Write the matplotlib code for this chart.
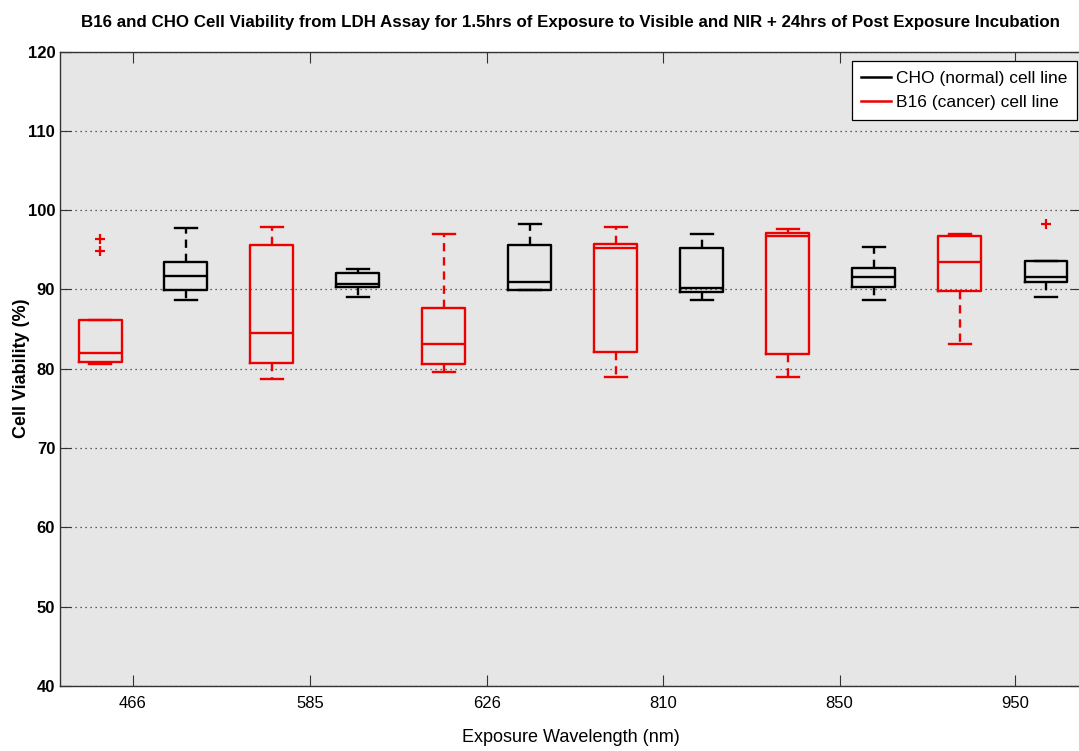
import matplotlib
matplotlib.use("Agg")
import matplotlib.pyplot as plt
from matplotlib.lines import Line2D

# ---- data ----
wavelengths = ["466", "585", "626", "810", "850", "950"]

# B16 (cancer) cell line - red boxes
b16_whislo = [80.6, 78.7, 79.6, 78.9, 79.0, 83.1]
b16_q1     = [80.9, 80.75, 80.6, 82.1, 81.9, 89.8]
b16_med    = [82.0, 84.5, 83.1, 95.2, 96.7, 93.5]
b16_q3     = [86.1, 95.6, 87.7, 95.7, 97.1, 96.7]
b16_whishi = [86.1, 97.9, 97.0, 97.9, 97.6, 97.0]
b16_fliers = [[96.4, 94.8], [], [], [], [], []]

# CHO (normal) cell line - black boxes
cho_whislo = [88.7, 89.1, 89.9, 88.7, 88.7, 89.1]
cho_q1     = [89.9, 90.3, 89.9, 89.7, 90.3, 90.9]
cho_med    = [91.7, 90.7, 90.9, 90.2, 91.6, 91.6]
cho_q3     = [93.5, 92.1, 95.6, 95.2, 92.7, 93.6]
cho_whishi = [97.7, 92.6, 98.2, 97.0, 95.3, 93.6]
cho_fliers = [[], [], [], [], [], [98.2]]

# box order along the axis: red, black, red, black, ...
b16_pos = [1, 3, 5, 7, 9, 11]
cho_pos = [2, 4, 6, 8, 10, 12]
tick_pos = [1.38, 3.44, 5.5, 7.55, 9.6, 11.64]

plt.rcParams['font.family'] = ['Liberation Sans', 'DejaVu Sans']

W, H = 1079, 751
fig = plt.figure(figsize=(W / 100, H / 100), dpi=100)
fig.patch.set_facecolor('white')
L, R, T, B = 60, 1081, 51.5, 686
ax = fig.add_axes([L / W, 1 - B / H, (R - L) / W, (B - T) / H])
ax.set_facecolor('#e6e6e6')

RED = '#ee0000'


def make_stats(lo, q1, med, q3, hi, fl):
    out = []
    for a, b, c, d, e, f in zip(lo, q1, med, q3, hi, fl):
        out.append(dict(whislo=a, q1=b, med=c, q3=d, whishi=e, fliers=f))
    return out


def draw(stats, pos, color):
    lw = 1.7
    ax.bxp(stats, positions=pos, widths=0.5, capwidths=0.25,
           manage_ticks=False,
           boxprops=dict(color=color, linewidth=lw),
           medianprops=dict(color=color, linewidth=lw),
           whiskerprops=dict(color=color, linewidth=lw, linestyle=(0, (3.5, 2.5))),
           capprops=dict(color=color, linewidth=lw),
           flierprops=dict(marker='+', markeredgecolor=RED, markersize=7,
                           markeredgewidth=1.6, linestyle='none'))


draw(make_stats(b16_whislo, b16_q1, b16_med, b16_q3, b16_whishi, b16_fliers), b16_pos, RED)
draw(make_stats(cho_whislo, cho_q1, cho_med, cho_q3, cho_whishi, cho_fliers), cho_pos, 'black')

ax.set_xlim(1 - 40 / 86, 1 + (R - 100) / 86)
ax.set_ylim(40, 120)
ax.set_yticks(range(40, 121, 10))
ax.set_xticks(tick_pos)
ax.set_xticklabels(wavelengths)
ax.yaxis.grid(True, linestyle=(0, (1, 3)), color='#333333', linewidth=0.9)
ax.set_axisbelow(True)

ax.tick_params(axis='both', direction='in', length=8, width=0.8, color='#333333',
               top=True, right=True, labelsize=12)
for lab in ax.get_yticklabels():
    lab.set_fontweight('bold')
ax.tick_params(axis='x', pad=7)
for sp in ax.spines.values():
    sp.set_color('#333333')
    sp.set_linewidth(1.0)

ax.set_xlabel('Exposure Wavelength (nm)', fontsize=13, labelpad=13)
ax.set_ylabel('Cell Viability (%)', fontsize=13, fontweight='bold', labelpad=-2)
ax.set_title('B16 and CHO Cell Viability from LDH Assay for 1.5hrs of Exposure to Visible and NIR + 24hrs of Post Exposure Incubation',
             fontsize=12.2, fontweight='bold', pad=18)

handles = [Line2D([], [], color='black', lw=1.8), Line2D([], [], color=RED, lw=1.8)]
leg = ax.legend(handles, ['CHO (normal) cell line', 'B16 (cancer) cell line'],
                loc='upper right', bbox_to_anchor=(1 - 4 / (R - L), 1 - 9.5 / (B - T)),
                fontsize=12.5, fancybox=False, framealpha=1, edgecolor='black',
                handlelength=1.7, handletextpad=0.3, borderpad=0.55, labelspacing=0.55,
                borderaxespad=0)
leg.get_frame().set_linewidth(0.9)

fig.savefig('out.png', dpi=100, facecolor='white')
